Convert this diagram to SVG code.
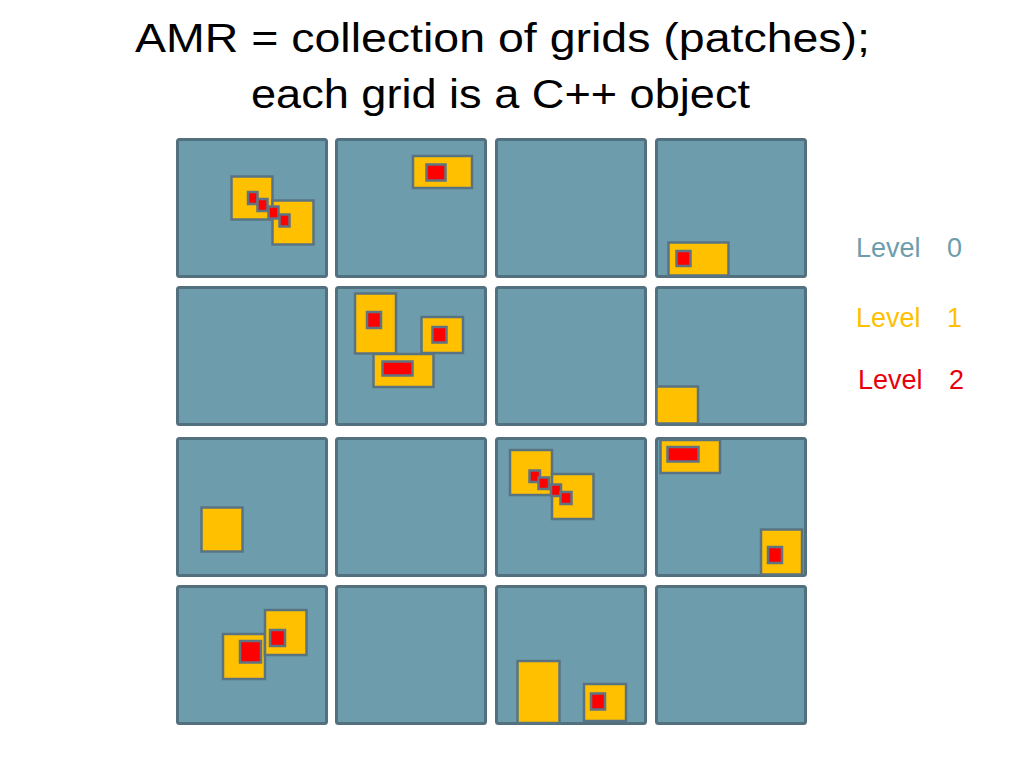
<svg xmlns="http://www.w3.org/2000/svg" width="1024" height="768" viewBox="0 0 1024 768">
<style>
.cell{fill:#6d9dad;stroke:#53707e;stroke-width:3}
.l1{fill:#ffc000;stroke:#5a7383;stroke-width:2.5}
.l2{fill:#ff0000;stroke:#5f7383;stroke-width:2.5}
.title{font-family:"Liberation Sans",Arial,sans-serif;font-size:40px;fill:#000}
.lg{font-family:"Liberation Sans",Arial,sans-serif;font-size:27px}
</style>
<rect width="1024" height="768" fill="#fff"/>
<g id="title">
<text class="title" x="135" y="52" textLength="735" lengthAdjust="spacingAndGlyphs">AMR = collection of grids (patches);</text>
<text class="title" x="251" y="108" textLength="499" lengthAdjust="spacingAndGlyphs">each grid is a C++ object</text>
</g>
<g id="level0">
<rect class="cell" x="177.5" y="139.5" width="149" height="137" rx="2"/>
<rect class="cell" x="336.5" y="139.5" width="149" height="137" rx="2"/>
<rect class="cell" x="496.5" y="139.5" width="149" height="137" rx="2"/>
<rect class="cell" x="656.5" y="139.5" width="149" height="137" rx="2"/>
<rect class="cell" x="177.5" y="287.5" width="149" height="137" rx="2"/>
<rect class="cell" x="336.5" y="287.5" width="149" height="137" rx="2"/>
<rect class="cell" x="496.5" y="287.5" width="149" height="137" rx="2"/>
<rect class="cell" x="656.5" y="287.5" width="149" height="137" rx="2"/>
<rect class="cell" x="177.5" y="438.5" width="149" height="137" rx="2"/>
<rect class="cell" x="336.5" y="438.5" width="149" height="137" rx="2"/>
<rect class="cell" x="496.5" y="438.5" width="149" height="137" rx="2"/>
<rect class="cell" x="656.5" y="438.5" width="149" height="137" rx="2"/>
<rect class="cell" x="177.5" y="586.5" width="149" height="137" rx="2"/>
<rect class="cell" x="336.5" y="586.5" width="149" height="137" rx="2"/>
<rect class="cell" x="496.5" y="586.5" width="149" height="137" rx="2"/>
<rect class="cell" x="656.5" y="586.5" width="149" height="137" rx="2"/>
</g>
<g id="level1">
<rect class="l1" x="231.5" y="176.5" width="41" height="43"/>
<rect class="l1" x="272.5" y="200.5" width="41" height="44"/>
<rect class="l1" x="413" y="156" width="59" height="32"/>
<rect class="l1" x="355" y="293.5" width="41" height="60"/>
<rect class="l1" x="421.5" y="317" width="41.5" height="36"/>
<rect class="l1" x="373.5" y="354" width="60" height="33"/>
<rect class="l1" x="668.5" y="242.5" width="60" height="33"/>
<rect class="l1" x="656.5" y="386.5" width="41.5" height="37"/>
<rect class="l1" x="201.5" y="507.5" width="41" height="44"/>
<rect class="l1" x="223" y="634" width="42" height="45"/>
<rect class="l1" x="265" y="610" width="41.5" height="45"/>
<rect class="l1" x="510" y="450" width="42" height="45"/>
<rect class="l1" x="552" y="474" width="41.5" height="45"/>
<rect class="l1" x="660.5" y="440" width="59.5" height="33"/>
<rect class="l1" x="761" y="529.5" width="41" height="45"/>
<rect class="l1" x="517.5" y="661" width="42" height="62"/>
<rect class="l1" x="584" y="684" width="42" height="37"/>
</g>
<g id="level2">
<rect class="l2" x="248" y="192" width="9.5" height="12"/>
<rect class="l2" x="257.5" y="199" width="10" height="12"/>
<rect class="l2" x="268.5" y="206.5" width="10" height="12"/>
<rect class="l2" x="279.5" y="214.5" width="10" height="12"/>
<rect class="l2" x="426.5" y="164.5" width="19" height="16"/>
<rect class="l2" x="367" y="312" width="14" height="16"/>
<rect class="l2" x="432.5" y="327" width="14" height="15.5"/>
<rect class="l2" x="382.5" y="361.5" width="30" height="14"/>
<rect class="l2" x="676.5" y="251" width="14" height="15"/>
<rect class="l2" x="240" y="641" width="21" height="21.5"/>
<rect class="l2" x="270" y="630" width="15" height="16"/>
<rect class="l2" x="529.5" y="470.5" width="10.5" height="11.5"/>
<rect class="l2" x="538.5" y="477.5" width="10.5" height="11.5"/>
<rect class="l2" x="551" y="484.5" width="10" height="11.5"/>
<rect class="l2" x="560.5" y="492" width="11" height="12"/>
<rect class="l2" x="667.5" y="447" width="31" height="14.5"/>
<rect class="l2" x="768" y="547" width="14" height="16"/>
<rect class="l2" x="591" y="693.5" width="14" height="16"/>
</g>
<g id="legend">
<text class="lg" x="856" y="257" fill="#6d9dad">Level</text>
<text class="lg" x="947" y="257" fill="#6d9dad">0</text>
<text class="lg" x="856" y="327" fill="#ffc000">Level</text>
<text class="lg" x="947" y="327" fill="#ffc000">1</text>
<text class="lg" x="858" y="389" fill="#e8000b">Level</text>
<text class="lg" x="949" y="389" fill="#e8000b">2</text>
</g>
</svg>
